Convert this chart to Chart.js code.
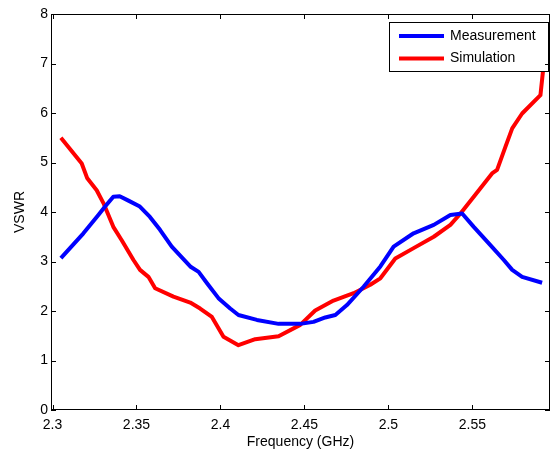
<!DOCTYPE html>
<html>
<head>
<meta charset="utf-8">
<script src="https://cdn.jsdelivr.net/npm/chart.js@4/dist/chart.umd.min.js"></script>
<style>
    html, body { margin: 0; padding: 0; background: #fff; }
    #wrap { width: 553px; height: 452px; position: relative; }
</style>
</head>
<body>
<div id="wrap"><canvas id="grafico-vswr"></canvas></div>
<script>
// Medição (azul)
const freqMedida = [2.305, 2.3184, 2.3273, 2.3313, 2.3362, 2.340, 2.3452, 2.352, 2.358, 2.364,
    2.371, 2.382, 2.387, 2.392, 2.3988, 2.4058, 2.4107, 2.4217, 2.4346, 2.4475,
    2.4554, 2.4624, 2.4684, 2.4753, 2.4852, 2.4952, 2.5031, 2.515, 2.527, 2.5369,
    2.5439, 2.5508, 2.5607, 2.5687, 2.5737, 2.5796, 2.5915];
const vswrMedida = [3.07, 3.57, 3.94, 4.11, 4.31, 4.32, 4.23, 4.11, 3.90, 3.64,
    3.30, 2.90, 2.79, 2.56, 2.26, 2.05, 1.92, 1.82, 1.74, 1.74,
    1.78, 1.87, 1.92, 2.12, 2.49, 2.90, 3.30, 3.57, 3.74, 3.94,
    3.97, 3.70, 3.33, 3.03, 2.83, 2.69, 2.57];

// Simulação (vermelho)
const freqSimulada = [2.305, 2.3174, 2.3207, 2.3263, 2.3303, 2.3362, 2.3412, 2.3482, 2.3521, 2.3571,
    2.3611, 2.372, 2.382, 2.3879, 2.3949, 2.4018, 2.4107, 2.4207, 2.4346, 2.4475,
    2.4564, 2.4673, 2.4793, 2.4892, 2.4952, 2.5041, 2.515, 2.527, 2.5369, 2.5429,
    2.5508, 2.5617, 2.5647, 2.5697, 2.5737, 2.5796, 2.5905, 2.5921, 2.5935];
const vswrSimulada = [5.50, 4.98, 4.68, 4.44, 4.18, 3.70, 3.43, 3.03, 2.83, 2.69,
    2.46, 2.29, 2.17, 2.05, 1.88, 1.48, 1.31, 1.43, 1.49, 1.72,
    2.01, 2.21, 2.36, 2.53, 2.66, 3.06, 3.27, 3.50, 3.74, 3.97,
    4.31, 4.78, 4.85, 5.32, 5.69, 5.99, 6.36, 6.87, 7.60];

const ticksX = [2.3, 2.35, 2.4, 2.45, 2.5, 2.55];
const ticksY = [0, 1, 2, 3, 4, 5, 6, 7, 8];

const FONTE = '"Liberation Sans", Arial, sans-serif';

function pontos(xs, ys) {
    return xs.map((x, i) => ({ x: x, y: ys[i] }));
}

// moldura com marcas para dentro nos quatro lados
const moldura = {
    id: 'moldura',
    afterDraw(chart) {
        const ctx = chart.ctx;
        const a = chart.chartArea;
        const sx = chart.scales.x, sy = chart.scales.y;
        ctx.save();
        ctx.strokeStyle = '#000';
        ctx.lineWidth = 1;
        ctx.strokeRect(a.left + 0.5, a.top + 0.5, a.right - a.left - 1, a.bottom - a.top - 1);
        ctx.beginPath();
        ticksX.forEach(v => {
            const px = Math.round(sx.getPixelForValue(v)) + 0.5;
            ctx.moveTo(px, a.bottom); ctx.lineTo(px, a.bottom - 5);
            ctx.moveTo(px, a.top); ctx.lineTo(px, a.top + 5);
        });
        ticksY.forEach(v => {
            const py = Math.round(sy.getPixelForValue(v)) + 0.5;
            ctx.moveTo(a.left, py); ctx.lineTo(a.left + 5, py);
            ctx.moveTo(a.right, py); ctx.lineTo(a.right - 5, py);
        });
        ctx.stroke();
        ctx.restore();
    }
};

// legenda desenhada por cima das curvas, no canto superior direito
const legendaBox = {
    id: 'legendaBox',
    afterDatasetsDraw(chart) {
        const ctx = chart.ctx;
        const x0 = 389, y0 = 22, w = 159, h = 49;
        ctx.save();
        ctx.fillStyle = '#fff';
        ctx.fillRect(x0, y0, w, h);
        ctx.strokeStyle = '#000';
        ctx.lineWidth = 1;
        ctx.strokeRect(x0 + 0.5, y0 + 0.5, w, h);
        ctx.font = '14px ' + FONTE;
        ctx.textBaseline = 'middle';
        ctx.textAlign = 'left';
        chart.data.datasets.forEach((ds, i) => {
            const y = 36 + i * 22.5;
            ctx.strokeStyle = ds.borderColor;
            ctx.lineWidth = 4;
            ctx.beginPath();
            ctx.moveTo(399, y); ctx.lineTo(444, y);
            ctx.stroke();
            ctx.fillStyle = '#000';
            ctx.fillText(ds.label, 450, y);
        });
        ctx.restore();
    }
};

function gerarGraficoVswr() {
    const canvas = document.getElementById('grafico-vswr');
    new Chart(canvas, {
        type: 'line',
        data: {
            datasets: [
                {
                    label: 'Measurement',
                    data: pontos(freqMedida, vswrMedida),
                    borderColor: '#0000ff',
                    borderWidth: 4,
                    borderJoinStyle: 'round',
                    pointRadius: 0,
                    tension: 0,
                    fill: false
                },
                {
                    label: 'Simulation',
                    data: pontos(freqSimulada, vswrSimulada),
                    borderColor: '#ff0000',
                    borderWidth: 4,
                    borderJoinStyle: 'round',
                    pointRadius: 0,
                    tension: 0,
                    fill: false
                }
            ]
        },
        options: {
            responsive: true,
            maintainAspectRatio: false,
            animation: false,
            layout: {
                padding: { top: 14, right: 3, left: 0, bottom: 0 }
            },
            plugins: {
                legend: { display: false },
                tooltip: { enabled: false }
            },
            scales: {
                x: {
                    type: 'linear',
                    min: 2.2991,
                    max: 2.5962,
                    afterBuildTicks: (s) => { s.ticks = ticksX.map(v => ({ value: v })); },
                    afterFit: (s) => { s.height = 42; },
                    grid: { display: false, drawTicks: false },
                    border: { display: false },
                    ticks: {
                        padding: 7,
                        color: '#000',
                        font: { family: FONTE, size: 14 },
                        maxRotation: 0,
                        callback: (v) => String(+v.toFixed(2))
                    },
                    title: {
                        display: true,
                        text: 'Frequency (GHz)',
                        color: '#000',
                        font: { family: FONTE, size: 14 },
                        padding: { top: 0, bottom: 1 }
                    }
                },
                y: {
                    min: 0,
                    max: 8,
                    afterBuildTicks: (s) => { s.ticks = ticksY.map(v => ({ value: v })); },
                    afterFit: (s) => { s.width = 51; },
                    grid: { display: false, drawTicks: false },
                    border: { display: false },
                    ticks: {
                        padding: 3,
                        color: '#000',
                        font: { family: FONTE, size: 14 }
                    },
                    title: {
                        display: true,
                        text: 'VSWR',
                        color: '#000',
                        font: { family: FONTE, size: 14 },
                        padding: { top: 12, bottom: 0 }
                    }
                }
            }
        },
        plugins: [moldura, legendaBox]
    });
}

window.addEventListener("load", () => {
    gerarGraficoVswr();
});
</script>
</body>
</html>
